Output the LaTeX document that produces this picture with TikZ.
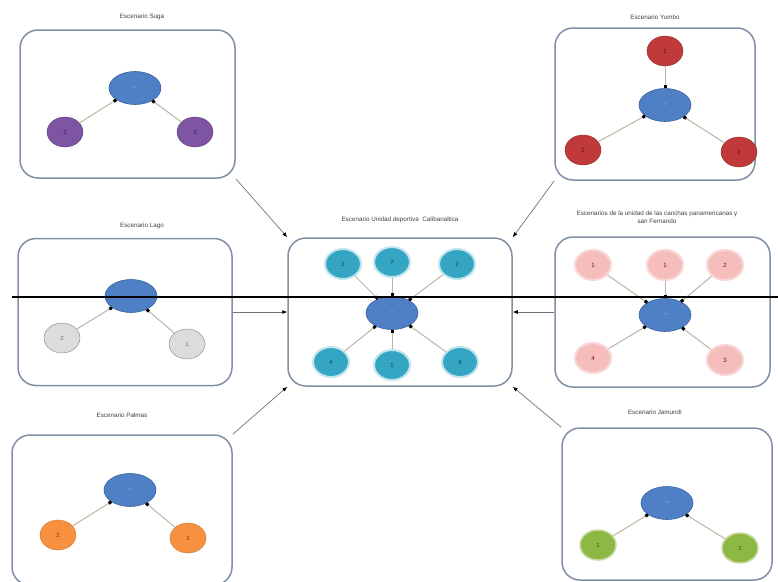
\documentclass[tikz,border=0pt]{standalone}
\usepackage{fontspec}
\setmainfont{Liberation Sans}
\usetikzlibrary{arrows.meta,shapes.geometric}
\definecolor{boxline}{HTML}{7F8FA6}
\definecolor{hubfill}{HTML}{4F7FC4}
\definecolor{hubline}{HTML}{3A64A0}
\definecolor{purp}{HTML}{7E55A3}
\definecolor{redn}{HTML}{C0393B}
\definecolor{grayn}{HTML}{DCDCDC}
\definecolor{cyann}{HTML}{34A6C4}
\definecolor{pinkn}{HTML}{F6BDBD}
\definecolor{orangen}{HTML}{F7913F}
\definecolor{greenn}{HTML}{8DB843}
\definecolor{linkcol}{HTML}{BDB6A4}
\tikzset{
  x=1pt, y=-1pt,
  scen/.style={draw=boxline, line width=1.5pt, rounded corners=18pt, fill=white},
  ttl/.style={font=\fontsize{6.3}{7.5}\selectfont, text=black!75, align=center},
  hub/.style={ellipse, draw=hubline, line width=0.6pt, fill=hubfill, minimum width=52pt, minimum height=33pt, inner sep=0pt, font=\fontsize{4}{4}\selectfont, text=white!80!hubfill},
  leaf/.style={ellipse, minimum width=36pt, minimum height=30pt, inner sep=0pt, font=\fontsize{6}{6}\selectfont},
  lp/.style={leaf, fill=purp, draw=purp!70!black, text=purp!40!black},
  lr/.style={leaf, fill=redn, draw=redn!70!black, text=redn!40!black},
  lg/.style={leaf, fill=grayn, draw=gray, text=black!60},
  lc/.style={leaf, fill=cyann, draw=cyann!30, line width=2pt, text=cyann!40!black},
  lk/.style={leaf, fill=pinkn, draw=pinkn!60!white, line width=2pt, text=red!50!black},
  lo/.style={leaf, fill=orangen, draw=orangen!80!black, text=orangen!40!black},
  lgr/.style={leaf, fill=greenn, draw=greenn!50!white, line width=1.5pt, text=greenn!40!black},
  link/.style={draw=linkcol, line width=1pt, -{Square[length=3pt,width=3pt,black]}},
  flow/.style={draw=black!55, line width=0.7pt, -{Latex[length=5pt,width=4pt,black]}},
}
\begin{document}
\begin{tikzpicture}
\useasboundingbox (0,0) rectangle (778,581);
% ---------- Suga ----------
\node[scen, minimum width=215pt, minimum height=148pt] (suga) at (127.5,104) {};
\node[ttl] (tsuga) at (142,17) {Escenario Suga};
\node[hub] (h1) at (135,88) {---};
\node[lp] (s1) at (65,132) {2};
\node[lp] (s2) at (195,132) {3};
\draw[link] (s1) -- (h1);
\draw[link] (s2) -- (h1);
% ---------- Yumbo ----------
\node[scen, minimum width=200pt, minimum height=152pt] (yumbo) at (655,104) {};
\node[ttl] (tyumbo) at (655,17) {Escenario Yumbo};
\node[hub] (h2) at (665,105) {---};
\node[lr] (y1) at (665,51) {1};
\node[lr] (y2) at (583,150) {2};
\node[lr] (y3) at (739,152) {2};
\draw[link] (y1) -- (h2);
\draw[link] (y2) -- (h2);
\draw[link] (y3) -- (h2);
% ---------- Lago ----------
\node[scen, minimum width=214pt, minimum height=147pt] (lago) at (125,312) {};
\node[ttl] (tlago) at (142,226) {Escenario Lago};
\node[hub] (h3) at (131,296) {};
\node[lg] (l1) at (62,338) {2};
\node[lg] (l2) at (187,344) {1};
\draw[link] (l1) -- (h3);
\draw[link] (l2) -- (h3);
% ---------- Central ----------
\node[scen, minimum width=224pt, minimum height=148pt] (cen) at (400,312) {};
\node[ttl] (tcen) at (400,220) {Escenario Unidad deportiva \ Calibanaltica};
\node[hub] (h4) at (392,313) {---};
\node[lc] (c1) at (343,264) {2};
\node[lc] (c2) at (392,262) {7};
\node[lc] (c3) at (457,264) {2};
\node[lc] (c4) at (331,362) {4};
\node[lc] (c5) at (392,365) {1};
\node[lc] (c6) at (460,362) {6};
\foreach \n in {c1,c2,c3,c4,c5,c6} \draw[link] (\n) -- (h4);
% ---------- San Fernando ----------
\node[scen, minimum width=215pt, minimum height=150pt] (rt) at (662.5,312) {};
\node[ttl] (trt) at (657,217) {Escenarios de la unidad de las canchas panamericanas y\\san Fernando};
\node[hub] (h5) at (665,315) {---};
\node[lk] (r1) at (593,265) {1};
\node[lk] (r2) at (665,265) {1};
\node[lk] (r3) at (725,265) {2};
\node[lk] (r4) at (593,358) {4};
\node[lk] (r5) at (725,360) {3};
\foreach \n in {r1,r2,r3,r4,r5} \draw[link] (\n) -- (h5);
% ---------- Palmas ----------
\node[scen, minimum width=220pt, minimum height=150pt] (palmas) at (122,510) {};
\node[ttl] (tpalmas) at (122,415) {Escenario Palmas};
\node[hub] (h6) at (130,490) {---};
\node[lo] (p1) at (58,535) {2};
\node[lo] (p2) at (188,538) {1};
\draw[link] (p1) -- (h6);
\draw[link] (p2) -- (h6);
% ---------- Jamundi ----------
\node[scen, minimum width=210pt, minimum height=152pt] (jam) at (667,504) {};
\node[ttl] (tjam) at (655,412) {Escenario Jamundí};
\node[hub] (h7) at (667,503) {---};
\node[lgr] (j1) at (598,545) {1};
\node[lgr] (j2) at (740,548) {1};
\draw[link] (j1) -- (h7);
\draw[link] (j2) -- (h7);
% ---------- flows to centre ----------
\draw[flow] (suga.south east) -- (cen.north west);
\draw[flow] (yumbo.south west) -- (cen.north east);
\draw[flow] (lago.east) -- (cen.west);
\draw[flow] (rt.west) -- (cen.east);
\draw[flow] (palmas.north east) -- (cen.south west);
\draw[flow] (jam.north west) -- (cen.south east);
% ---------- horizontal rule ----------
\coordinate (ruleA) at (12,297);
\coordinate (ruleB) at (778,297);
\draw[black, line width=1.3pt] (ruleA) -- (ruleB);
\end{tikzpicture}
\end{document}
